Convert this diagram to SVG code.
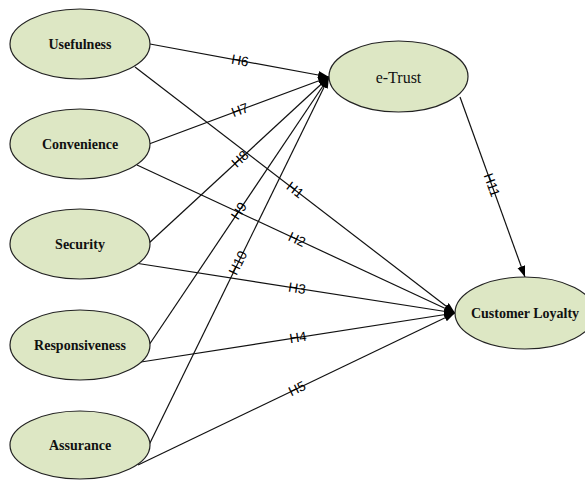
<svg xmlns="http://www.w3.org/2000/svg" width="585" height="482" viewBox="0 0 585 482">
<style>
.node ellipse{fill:#dde7c4;stroke:#222;stroke-width:1.2}
.node text{font-family:"Liberation Serif","Times New Roman",serif;font-weight:bold;font-size:14px;fill:#111;text-anchor:middle;dominant-baseline:central}
#etrust text{font-weight:normal;font-size:16px}
.edges line{stroke:#111;stroke-width:1.2;marker-end:url(#arr)}
.lbl{font-family:"Liberation Sans",Arial,sans-serif;font-size:13.5px;fill:#000;text-anchor:middle;dominant-baseline:central}
</style>
<defs>
<marker id="arr" markerUnits="userSpaceOnUse" markerWidth="12" markerHeight="10" refX="11" refY="4" orient="auto">
<path d="M0,0 L11,4 L0,8 Z" fill="#000"/>
</marker>
</defs>
<rect width="585" height="482" fill="#fff"/>
<g class="edges">
<line x1="150" y1="44" x2="329" y2="77"/>
<line x1="149" y1="144" x2="329" y2="77"/>
<line x1="149" y1="243" x2="329" y2="77"/>
<line x1="149" y1="345" x2="329" y2="77"/>
<line x1="149" y1="445" x2="329" y2="77"/>
<line x1="135" y1="67" x2="455" y2="313"/>
<line x1="137" y1="165" x2="455" y2="313"/>
<line x1="135" y1="263" x2="455" y2="313"/>
<line x1="141" y1="362" x2="455" y2="313"/>
<line x1="138" y1="465" x2="455" y2="313"/>
<line x1="460" y1="97" x2="525" y2="277"/>
<text class="lbl" transform="translate(240,60.6) rotate(10.4)">H6</text>
<text class="lbl" transform="translate(240,110.1) rotate(-20.4)">H7</text>
<text class="lbl" transform="translate(240,159) rotate(-42.7)">H8</text>
<text class="lbl" transform="translate(239,211) rotate(-56.1)">H9</text>
<text class="lbl" transform="translate(238,263) rotate(-63.9)">H10</text>
<text class="lbl" transform="translate(295,190) rotate(37.6)">H1</text>
<text class="lbl" transform="translate(297,239.5) rotate(25)">H2</text>
<text class="lbl" transform="translate(297,288.3) rotate(8.9)">H3</text>
<text class="lbl" transform="translate(298,337.5) rotate(-8.9)">H4</text>
<text class="lbl" transform="translate(297,388.8) rotate(-25.6)">H5</text>
<text class="lbl" transform="translate(491.8,185) rotate(70.1)">H11</text>
</g>
<g id="usefulness" class="node"><ellipse cx="80" cy="44" rx="70" ry="35"/><text x="80" y="44">Usefulness</text></g>
<g id="convenience" class="node"><ellipse cx="80" cy="144" rx="70" ry="35"/><text x="80" y="144">Convenience</text></g>
<g id="security" class="node"><ellipse cx="80" cy="244" rx="70" ry="35"/><text x="80" y="244">Security</text></g>
<g id="responsiveness" class="node"><ellipse cx="80" cy="345" rx="70" ry="35"/><text x="80" y="345">Responsiveness</text></g>
<g id="assurance" class="node"><ellipse cx="80" cy="445" rx="70" ry="34"/><text x="80" y="445">Assurance</text></g>
<g id="etrust" class="node"><ellipse cx="398.5" cy="76.5" rx="69.5" ry="35.5"/><text x="398.5" y="77">e-Trust</text></g>
<g id="loyalty" class="node"><ellipse cx="525" cy="313" rx="70" ry="36"/><text x="525" y="313">Customer Loyalty</text></g>
</svg>
